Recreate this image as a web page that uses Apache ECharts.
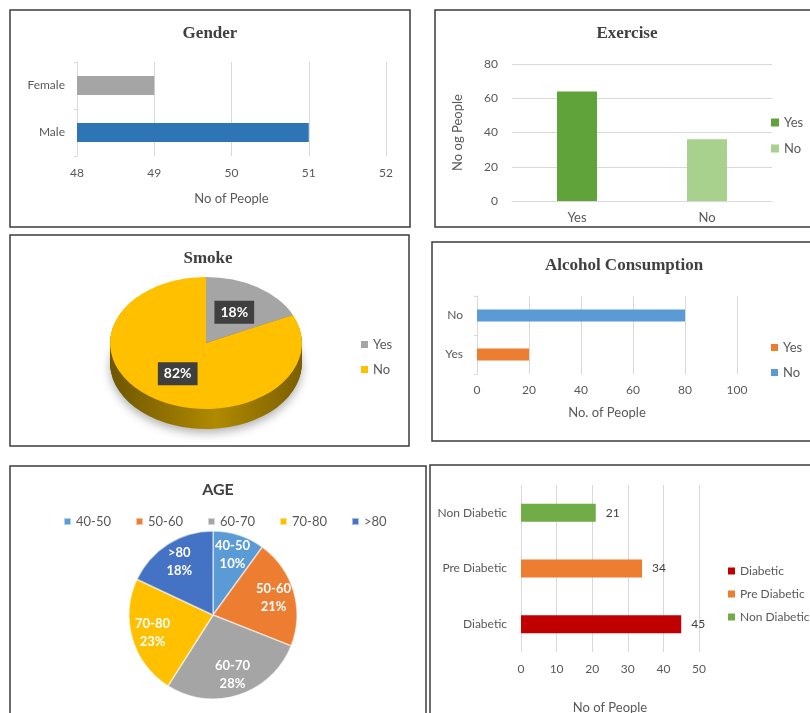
<!DOCTYPE html>
<html>
<head>
<meta charset="utf-8">
<script src="https://cdn.jsdelivr.net/npm/echarts@6/dist/echarts.min.js"></script>
<style>
  html, body { margin: 0; padding: 0; background: #fff; }
  #main { width: 810px; height: 713px; }
</style>
</head>
<body>
<div id="main"></div>
<script>
  // ---- data ----
  const genderCats = ['Male', 'Female'];
  const genderValues = [51, 49];

  const exerciseCats = ['Yes', 'No'];
  const exerciseValues = [64, 36];

  const smokeCats = ['Yes', 'No'];
  const smokeValues = [18, 82]; // percent

  const alcoholCats = ['Yes', 'No'];
  const alcoholValues = [20, 80];

  const ageCats = ['40-50', '50-60', '60-70', '70-80', '>80'];
  const ageValues = [10, 21, 28, 23, 18]; // percent

  const diabCats = ['Diabetic', 'Pre Diabetic', 'Non Diabetic'];
  const diabValues = [45, 34, 21];

  // ---- styles ----
  const genderColors = ['#2e75b6', '#a5a5a5'];
  const exerciseColors = ['#5fa33a', '#a9d18e'];
  const smokeColors = ['#a5a5a5', '#ffc000'];
  const smokeSide = [['#5a5a5a', '#7d7d7d', '#5a5a5a'], ['#6e5600', '#b08a00', '#7a5f00']];
  const alcoholColors = ['#ed7d31', '#5b9bd5'];
  const ageColors = ['#5b9bd5', '#ed7d31', '#a5a5a5', '#ffc000', '#4472c4'];
  const diabColors = ['#c00000', '#ed7d31', '#70ad47'];

  const SANS = 'Lato, "Open Sans", sans-serif';
  const SERIF = '"Liberation Serif", "DejaVu Serif", serif';
  const labelColor = '#595959';
  const gridColor = '#d9d9d9';

  const smokePie = { cx: 206, cy: 343, rx: 96, ry: 66, depth: 20 };

  const chart = echarts.init(document.getElementById('main'));

  // one bar series per category so each can have its own legend entry
  function splitSeries(prefix, cats, values, colors, axisIdx, extra) {
    return cats.map((c, i) => Object.assign({
      type: 'bar',
      name: prefix + '|' + c,
      xAxisIndex: axisIdx,
      yAxisIndex: axisIdx,
      barGap: '-100%',
      itemStyle: { color: colors[i] },
      data: cats.map((cc, j) => (j === i ? values[i] : '-'))
    }, extra || {}));
  }

  function smokeSeries(i) {
    return {
      type: 'custom',
      name: 'Smoke|' + smokeCats[i],
      coordinateSystem: 'none',
      itemStyle: { color: smokeColors[i] },
      data: [smokeValues[i]],
      renderItem: function (params, api) {
        const total = smokeValues.reduce((a, b) => a + b, 0);
        let before = 0;
        for (let k = 0; k < i; k++) before += smokeValues[k];
        const a0 = -Math.PI / 2 + before / total * Math.PI * 2;
        const a1 = a0 + smokeValues[i] / total * Math.PI * 2;
        const p = smokePie;
        const side = new echarts.graphic.LinearGradient(0, 0, 1, 0, [
          { offset: 0, color: smokeSide[i][0] },
          { offset: 0.55, color: smokeSide[i][1] },
          { offset: 1, color: smokeSide[i][2] }
        ]);
        const children = [];
        for (let d = p.depth; d >= 1; d--) {
          const st = { fill: side };
          if (d === p.depth) {
            st.shadowBlur = 10;
            st.shadowColor = 'rgba(0,0,0,0.3)';
            st.shadowOffsetY = 4;
          }
          children.push({
            type: 'sector', x: p.cx, y: p.cy + d, scaleY: p.ry / p.rx, z2: 1,
            shape: { cx: 0, cy: 0, r: p.rx, r0: 0, startAngle: a0, endAngle: a1, clockwise: true },
            style: st
          });
        }
        children.push({
          type: 'sector', x: p.cx, y: p.cy, scaleY: p.ry / p.rx, z2: 5,
          shape: { cx: 0, cy: 0, r: p.rx, r0: 0, startAngle: a0, endAngle: a1, clockwise: true },
          style: { fill: api.visual('color') }
        });
        const mid = (a0 + a1) / 2;
        children.push({
          type: 'text', z2: 10,
          x: p.cx + Math.cos(mid) * p.rx * 0.55,
          y: p.cy + Math.sin(mid) * p.ry * 0.55,
          style: {
            text: smokeValues[i] + '%', fill: '#fff', font: 'bold 14px ' + SANS,
            align: 'center', verticalAlign: 'middle',
            backgroundColor: '#3f3f3f', padding: [5, 6, 4, 6]
          }
        });
        return { type: 'group', children: children };
      }
    };
  }

  const axisLabel = { color: labelColor, fontSize: 12, fontFamily: SANS };
  const nameStyle = { color: labelColor, fontSize: 13, fontFamily: SANS };
  const split = { show: true, lineStyle: { color: gridColor } };
  const legendText = { color: labelColor, fontSize: 13, fontFamily: SANS };
  const stripName = n => n.split('|')[1];

  function border(x, y, w, h) {
    return { type: 'rect', silent: true, z: -1, shape: { x: x, y: y, width: w, height: h },
      style: { fill: 'none', stroke: '#3c3c3c', lineWidth: 1.5 } };
  }
  function title(text, x, y, font) {
    return { type: 'text', x: x, y: y, silent: true,
      style: { text: text, font: font || ('bold 17px ' + SERIF), fill: '#404040', align: 'center', verticalAlign: 'middle' } };
  }

  const option = {
    backgroundColor: '#fff',
    animation: false,
    graphic: [
      border(10, 10, 400, 217),
      border(435, 10, 380, 217),
      border(10, 235, 399, 211),
      border(432, 242, 383, 199),
      border(10, 466, 416, 260),
      border(430, 465, 385, 260),
      title('Gender', 210, 34),
      title('Exercise', 627, 34),
      title('Smoke', 208, 259),
      title('Alcohol Consumption', 624, 266),
      title('AGE', 218, 490, 'bold 16px ' + SANS)
    ],
    legend: [
      { data: exerciseCats.map(c => 'Exercise|' + c), formatter: stripName, orient: 'vertical',
        left: 766, top: 111, itemWidth: 8, itemHeight: 8, itemGap: 13, icon: 'rect', textStyle: legendText },
      { data: smokeCats.map(c => 'Smoke|' + c), formatter: stripName, orient: 'vertical',
        left: 356, top: 333, itemWidth: 7, itemHeight: 7, itemGap: 12, icon: 'rect', textStyle: legendText },
      { data: alcoholCats.map(c => 'Alcohol|' + c), formatter: stripName, orient: 'vertical',
        left: 766, top: 336, itemWidth: 7, itemHeight: 7, itemGap: 12, icon: 'rect', textStyle: legendText },
      { data: ageCats, orient: 'horizontal', left: 58, top: 510, itemWidth: 7, itemHeight: 7,
        itemGap: 24, icon: 'rect', textStyle: legendText },
      { data: diabCats.map(c => 'Diabetes|' + c), formatter: stripName, orient: 'vertical',
        left: 723, top: 560, itemWidth: 7, itemHeight: 7, itemGap: 11, icon: 'rect',
        textStyle: { color: labelColor, fontSize: 12, fontFamily: SANS } }
    ],
    grid: [
      { left: 77, right: 424, top: 62, bottom: 557, outerBoundsMode: 'none' },
      { left: 512, right: 38, top: 64, bottom: 512, outerBoundsMode: 'none' },
      { left: 477, right: 73, top: 296, bottom: 339, outerBoundsMode: 'none' },
      { left: 521, right: 111, top: 485, bottom: 61, outerBoundsMode: 'none' }
    ],
    xAxis: [
      { gridIndex: 0, type: 'value', min: 48, max: 52, interval: 1,
        axisLine: { show: false }, axisTick: { show: false }, splitLine: split,
        axisLabel: Object.assign({ margin: 11 }, axisLabel),
        name: 'No of People', nameLocation: 'middle', nameGap: 36, nameTextStyle: nameStyle },
      { gridIndex: 1, type: 'category', data: exerciseCats,
        axisLine: { lineStyle: { color: gridColor } }, axisTick: { show: false },
        axisLabel: Object.assign({ margin: 10 }, axisLabel, { fontSize: 13 }) },
      { gridIndex: 2, type: 'value', min: 0, max: 100, interval: 20,
        axisLine: { show: false }, axisTick: { show: false }, splitLine: split,
        axisLabel: Object.assign({ margin: 10 }, axisLabel),
        name: 'No. of People', nameLocation: 'middle', nameGap: 32, nameTextStyle: nameStyle },
      { gridIndex: 3, type: 'value', min: 0, max: 50, interval: 10,
        axisLine: { show: false }, axisTick: { show: false }, splitLine: split,
        axisLabel: Object.assign({ margin: 11 }, axisLabel),
        name: 'No of People', nameLocation: 'middle', nameGap: 49, nameTextStyle: nameStyle }
    ],
    yAxis: [
      { gridIndex: 0, type: 'category', data: genderCats,
        axisLine: { lineStyle: { color: gridColor } }, axisTick: { show: true, length: 3, lineStyle: { color: gridColor } },
        axisLabel: Object.assign({ margin: 12 }, axisLabel) },
      { gridIndex: 1, type: 'value', min: 0, max: 80, interval: 20,
        axisLine: { show: false }, axisTick: { show: false }, splitLine: split,
        axisLabel: Object.assign({ margin: 14 }, axisLabel),
        name: 'No og People', nameLocation: 'middle', nameGap: 48, nameTextStyle: nameStyle },
      { gridIndex: 2, type: 'category', data: alcoholCats,
        axisLine: { lineStyle: { color: gridColor } }, axisTick: { show: true, length: 3, lineStyle: { color: gridColor } },
        axisLabel: Object.assign({ margin: 14 }, axisLabel) },
      { gridIndex: 3, type: 'category', data: diabCats,
        axisLine: { show: false }, axisTick: { show: false },
        axisLabel: Object.assign({ margin: 14 }, axisLabel) }
    ],
    series: [
      {
        type: 'bar', name: 'Gender', xAxisIndex: 0, yAxisIndex: 0, barWidth: 19,
        data: genderValues.map((v, i) => ({ value: v, itemStyle: { color: genderColors[i] } }))
      }
    ]
      .concat(splitSeries('Exercise', exerciseCats, exerciseValues, exerciseColors, 1, { barWidth: 40 }))
      .concat(splitSeries('Alcohol', alcoholCats, alcoholValues, alcoholColors, 2, { barWidth: 12 }))
      .concat(splitSeries('Diabetes', diabCats, diabValues, diabColors, 3, {
        barWidth: 18,
        label: { show: true, position: 'right', distance: 10, color: '#404040', fontSize: 12, fontFamily: SANS }
      }))
      .concat([smokeSeries(0), smokeSeries(1)])
      .concat([
        {
          type: 'pie', name: 'AGE', center: [213, 615], radius: 84, startAngle: 90, clockwise: true,
          label: { show: false }, labelLine: { show: false },
          itemStyle: { borderColor: 'rgba(255,255,255,0.55)', borderWidth: 1.5 },
          data: ageCats.map((c, i) => ({ name: c, value: ageValues[i], itemStyle: { color: ageColors[i] } }))
        },
        {
          // transparent ring only used to place the slice labels further out
          type: 'pie', name: 'AGE labels', center: [213, 615], radius: [36, 84], startAngle: 90, clockwise: true,
          silent: true, labelLine: { show: false },
          itemStyle: { color: 'rgba(0,0,0,0)' },
          label: { show: true, position: 'inside', formatter: '{b}\n{d}%', color: '#fff',
            fontSize: 13, fontWeight: 'bold', fontFamily: SANS, lineHeight: 18 },
          data: ageCats.map((c, i) => ({ name: c, value: ageValues[i] }))
        }
      ])
  };

  chart.setOption(option);
</script>
</body>
</html>
